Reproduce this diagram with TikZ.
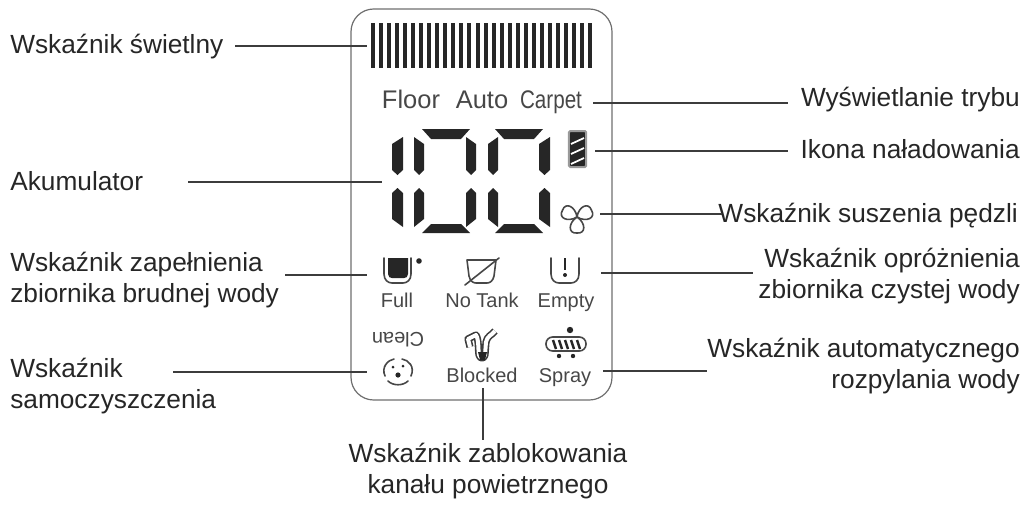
\documentclass[tikz,border=0pt]{standalone}
\usepackage{fontspec}
\setmainfont{Liberation Sans}
\definecolor{ink}{HTML}{262626}
\definecolor{rim}{HTML}{6E6E6E}
\newcommand{\pxfont}[1]{\fontsize{#1}{22.9}\selectfont}
\begin{document}
\begin{tikzpicture}[x=0.75pt,y=-0.75pt,
    callout/.style={inner sep=0pt,text=ink,font=\pxfont{19.7}},
    tag/.style={inner sep=0pt,anchor=base,text=ink!85,font=\pxfont{15}},
    modetag/.style={inner sep=0pt,anchor=base,text=ink!85,font=\pxfont{19.1}},
    leader/.style={draw=ink!90,line width=1pt},
    bar/.style={fill=ink,draw=none},
    segment/.style={fill=ink,draw=none},
    iconline/.style={draw=ink!85,line width=1.2pt,line cap=round,line join=round}]
    \useasboundingbox (0,0) rectangle (1031,504);

    \draw[draw=rim,line width=0.9pt,rounded corners=17pt] (351,9) rectangle (612,400);

    \foreach \x in {0,...,27} {
      \fill[bar] ({371+8.04*\x},23) rectangle ({375+8.04*\x},68);
    }

    \node[modetag] (floor) at (411,108) {Floor};
    \node[modetag] (auto) at (482,108) {Auto};
    \node[modetag,xscale=0.81] (carpet) at (551,108) {Carpet};

    \foreach \l/\m/\h in {392/397.5/403,424/419/414,476/471/466,488/493/498,539/544.5/550} {
      \fill[segment] (\l,144) -- (\h,137) -- (\h,170) -- (\m,175) -- (\l,170) -- cycle;
      \fill[segment] (\l,193) -- (\m,188) -- (\h,193) -- (\h,227) -- (\l,219) -- cycle;
    }
    \foreach \x in {422,495} {
      \fill[segment] (\x,129) -- ({\x+48},129) -- ({\x+39},139) -- ({\x+9},139) -- cycle;
      \fill[segment] ({\x+9},224) -- ({\x+39},224) -- ({\x+48},233) -- (\x,233) -- cycle;
    }

    \node[draw=rim!70,fill=ink,line width=1.5pt,rounded corners=1pt,minimum width=13pt,minimum height=27pt,inner sep=0pt] (battery) at (577.5,149) {};
    \foreach \y in {141,151,161} {
      \draw[white,line width=1.3pt] (571,{\y+3}) -- (584,{\y-3});
    }

    \foreach \a in {65,-65,180} {
      \draw[iconline,shift={(577,217)},rotate=\a] (0,0) .. controls (-9,-6) and (-9,-17) .. (0,-16) .. controls (9,-17) and (9,-6) .. (0,0);
    }

    \fill[ink] (388,258) -- (408,258) -- (408,274) .. controls (408,277) and (406,278) .. (404,278) -- (392,278) .. controls (390,278) and (388,277) .. (388,274) -- cycle;
    \draw[iconline] (384,258) -- (384,274) .. controls (384,280) and (388,283) .. (392,283) -- (403,283) .. controls (407,283) and (411,280) .. (411,274) -- (411,258);
    \fill[ink] (419,261) circle (2.8);
    \node[tag] (full) at (397,307) {Full};

    \draw[iconline] (467,260) -- (496,260) -- (494,276) .. controls (493,281) and (490,283) .. (487,283) -- (476,283) .. controls (473,283) and (470,281) .. (469,276) -- cycle;
    \draw[iconline] (465,285) -- (499,258);
    \node[tag] (notank) at (482,307) {No Tank};

    \draw[iconline] (551,258) -- (551,274) .. controls (551,280) and (555,283) .. (559,283) -- (571,283) .. controls (575,283) and (579,280) .. (579,274) -- (579,258);
    \draw[ink,line width=2.2pt] (565,258) -- (565,270);
    \fill[ink] (565,275) circle (2);
    \node[tag] (empty) at (566,307) {Empty};

    \node[tag,anchor=center,rotate=180] (clean) at (398,340) {Clean};
    \draw[iconline] (385,376) .. controls (381,367) and (388,360) .. (394,359);
    \draw[iconline] (402,359) .. controls (409,360) and (415,367) .. (411,376);
    \draw[iconline] (388,381) .. controls (393,386) and (403,386) .. (408,381);
    \fill[ink] (398,375) circle (2.6);
    \fill[ink] (393,367) circle (1.5);
    \fill[ink] (403,366) circle (1.5);

    \draw[draw=ink!90,double=white,double distance=3pt,line width=1.2pt,line join=round] (470,347) -- (468,339) -- (476,335) .. controls (479,340) and (478,350) .. (479,355) .. controls (480,359) and (484,359) .. (485,355) -- (486,342) .. controls (487,336) and (492,335) .. (495,331);
    \fill[ink] (478,352) -- (487,352) -- (485,360) -- (480,360) -- cycle;
    \node[tag] (blocked) at (482,382) {Blocked};

    \draw[iconline,fill=white,rounded corners=5pt] (546,337) rectangle (586,351);
    \foreach \x in {553,559,565,571,577} {
      \draw[ink,line width=1.8pt] (\x,340) -- ({\x+3},349);
    }
    \fill[ink] (570,330) circle (3.2);
    \fill[ink] (559,356) circle (2.2);
    \fill[ink] (573,356) circle (2.2);
    \node[tag] (spray) at (565,382) {Spray};

    \node[callout,anchor=base west] (lblBars) at (10,53) {Wskaźnik świetlny};
    \node[callout,anchor=base west] (lblAccu) at (10,190) {Akumulator};
    \node[callout,anchor=base west,align=left] (lblFull) at (10,302) {Wskaźnik zapełnienia\\zbiornika brudnej wody};
    \node[callout,anchor=base west,align=left] (lblClean) at (10,408) {Wskaźnik\\samoczyszczenia};
    \node[callout,anchor=base east] (lblMode) at (1020,106) {Wyświetlanie trybu};
    \node[callout,anchor=base east] (lblCharge) at (1020,158) {Ikona naładowania};
    \node[callout,anchor=base east] (lblFan) at (1018,222) {Wskaźnik suszenia pędzli};
    \node[callout,anchor=base east,align=right] (lblEmpty) at (1020,298) {Wskaźnik opróżnienia\\zbiornika czystej wody};
    \node[callout,anchor=base east,align=right] (lblSpray) at (1020,388) {Wskaźnik automatycznego\\rozpylania wody};
    \node[callout,anchor=base,align=center] (lblBlocked) at (488,493) {Wskaźnik zablokowania\\kanału powietrznego};

    \coordinate (barsStart) at (235,46);
    \coordinate (barsEnd) at (367,46);
    \coordinate (accuStart) at (188,182);
    \coordinate (accuEnd) at (382,182);
    \coordinate (fullStart) at (285,275);
    \coordinate (fullEnd) at (367,275);
    \coordinate (cleanStart) at (173,372);
    \coordinate (cleanEnd) at (367,372);
    \coordinate (modeStart) at (593,103);
    \coordinate (modeEnd) at (788,103);
    \coordinate (chargeStart) at (595,151);
    \coordinate (chargeEnd) at (788,151);
    \coordinate (fanStart) at (600,214);
    \coordinate (fanEnd) at (722,214);
    \coordinate (emptyStart) at (601,273);
    \coordinate (emptyEnd) at (753,273);
    \coordinate (sprayStart) at (603,371);
    \coordinate (sprayEnd) at (707,371);
    \coordinate (blockedStart) at (483,388);
    \coordinate (blockedEnd) at (483,440);

    \draw[leader] (barsStart) -- (barsEnd);
    \draw[leader] (accuStart) -- (accuEnd);
    \draw[leader] (fullStart) -- (fullEnd);
    \draw[leader] (cleanStart) -- (cleanEnd);
    \draw[leader] (modeStart) -- (modeEnd);
    \draw[leader] (chargeStart) -- (chargeEnd);
    \draw[leader] (fanStart) -- (fanEnd);
    \draw[leader] (emptyStart) -- (emptyEnd);
    \draw[leader] (sprayStart) -- (sprayEnd);
    \draw[leader] (blockedStart) -- (blockedEnd);
\end{tikzpicture}
\end{document}
